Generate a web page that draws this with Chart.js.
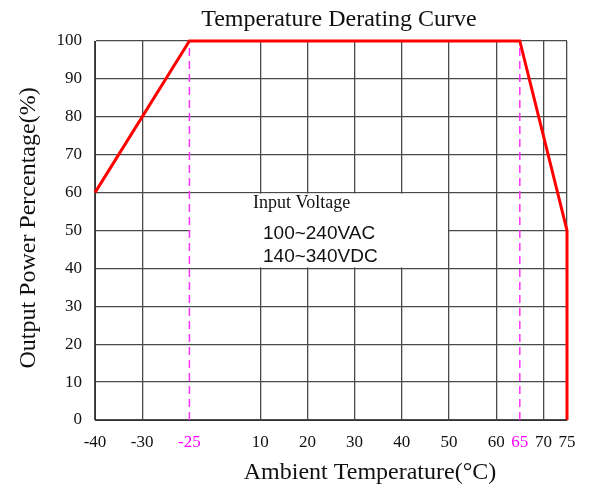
<!DOCTYPE html>
<html>
<head>
<meta charset="utf-8">
<title>Temperature Derating Curve</title>
<script src="https://cdn.jsdelivr.net/npm/chart.js@4"></script>
<style>
  body { margin: 0; background: #fff; }
  canvas { display: block; }
</style>
</head>
<body>
<canvas id="derating" width="592" height="488"></canvas>
<script>
const tempTicks = [-40, -30, -25, 10, 20, 30, 40, 50, 60, 65, 70, 75];
const markedTemps = [-25, 65];
const curveTemps = [-40, -25, 65, 75, 75];
const curvePower = [60, 100, 100, 50, 0];
const noteTitle = 'Input Voltage';
const noteLines = ['100~240VAC', '140~340VDC'];

// the original x axis is not evenly spaced, every tick gets its own slot
const tickSlots = [0, 1, 2, 3.5, 4.5, 5.5, 6.5, 7.5, 8.5, 9, 9.5, 10];

const serif = '"Liberation Serif", "Times New Roman", serif';
const sans = '"Liberation Sans", Arial, sans-serif';

function toSlot(t) {
  for (let i = 1; i < tempTicks.length; i++) {
    if (t <= tempTicks[i]) {
      const a = tempTicks[i - 1];
      const b = tempTicks[i];
      return tickSlots[i - 1] + (t - a) / (b - a) * (tickSlots[i] - tickSlots[i - 1]);
    }
  }
  return tickSlots[tickSlots.length - 1];
}

function slotLabel(v) {
  const i = tickSlots.indexOf(v);
  return i >= 0 ? tempTicks[i] : '';
}

const isMarked = v => markedTemps.includes(slotLabel(v));

const notePlugin = {
  id: 'note',
  beforeDatasetsDraw(chart) {
    const { ctx, scales: { x, y } } = chart;
    const left = x.getPixelForValue(toSlot(-25)) + 1;
    const right = x.getPixelForValue(toSlot(50)) - 1;
    const top = y.getPixelForValue(60) + 1;
    const bottom = y.getPixelForValue(40) - 1;
    ctx.save();
    ctx.fillStyle = '#fff';
    ctx.fillRect(left, top, right - left, bottom - top);
    ctx.restore();
  },
  afterDatasetsDraw(chart) {
    const { ctx } = chart;
    ctx.save();
    ctx.fillStyle = '#111';
    ctx.textAlign = 'left';
    ctx.textBaseline = 'alphabetic';
    ctx.font = '18px ' + serif;
    ctx.fillText(noteTitle, 253, 208);
    ctx.font = '19px ' + sans;
    noteLines.forEach((line, i) => ctx.fillText(line, 263, 239 + i * 23));
    ctx.restore();
  },
  afterDraw(chart) {
    const { ctx } = chart;
    ctx.save();
    ctx.fillStyle = '#111';
    ctx.font = '24px ' + serif;
    ctx.textAlign = 'center';
    ctx.textBaseline = 'alphabetic';
    ctx.fillText('Temperature Derating Curve', 339, 26);
    ctx.fillText('Ambient Temperature(°C)', 370, 479);
    ctx.translate(35, 228);
    ctx.rotate(-Math.PI / 2);
    ctx.fillText('Output Power Percentage(%)', 0, 0);
    ctx.restore();
  }
};

const datasets = [{
  data: curveTemps.map((t, i) => ({ x: toSlot(t), y: curvePower[i] })),
  borderColor: '#ff0000',
  borderWidth: 3,
  pointRadius: 0,
  clip: false,
  order: 0
}];

markedTemps.forEach(t => {
  datasets.push({
    data: [{ x: toSlot(t), y: 0 }, { x: toSlot(t), y: 100 }],
    borderColor: '#ff33ff',
    borderWidth: 1.5,
    borderDash: [8, 5],
    pointRadius: 0,
    order: 1
  });
});

new Chart(document.getElementById('derating'), {
  type: 'line',
  data: { datasets },
  options: {
    responsive: false,
    animation: false,
    layout: { padding: { top: 41, right: 25, left: 0, bottom: 0 } },
    plugins: {
      legend: { display: false },
      tooltip: { enabled: false }
    },
    scales: {
      x: {
        type: 'linear',
        min: 0,
        max: 10,
        afterBuildTicks: scale => {
          scale.ticks = tickSlots.map(v => ({ value: v }));
        },
        afterFit: scale => { scale.height = 68; },
        ticks: {
          autoSkip: false,
          maxRotation: 0,
          padding: 12,
          font: { family: serif, size: 17 },
          color: ctx => isMarked(ctx.tick.value) ? '#ff00ff' : '#111',
          callback: v => slotLabel(v)
        },
        grid: {
          drawTicks: false,
          lineWidth: 1.3,
          color: ctx => ctx.tick && isMarked(ctx.tick.value) ? 'rgba(0,0,0,0)' : '#4a4a4a'
        },
        border: { display: true, color: '#333' }
      },
      y: {
        min: 0,
        max: 100,
        afterFit: scale => { scale.width = 95; },
        ticks: {
          stepSize: 10,
          padding: 13,
          font: { family: serif, size: 17 },
          color: '#111'
        },
        grid: { drawTicks: false, lineWidth: 1.3, color: '#4a4a4a' },
        border: { display: true, color: '#333' }
      }
    }
  },
  plugins: [notePlugin]
});
</script>
</body>
</html>
